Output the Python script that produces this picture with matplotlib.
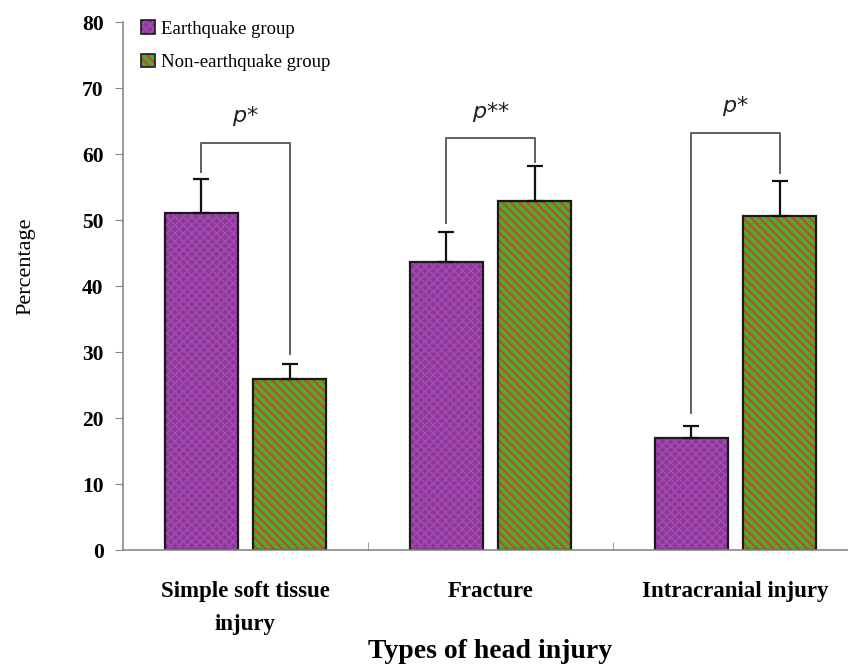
import numpy as np
import matplotlib.pyplot as plt
from matplotlib.patches import Patch

plt.rcParams['font.family'] = ['Liberation Serif', 'DejaVu Serif']
plt.rcParams['hatch.linewidth'] = 1.3

categories = ['Simple soft tissue\ninjury', 'Fracture', 'Intracranial injury']
quake = [51.0, 43.7, 17.0]
quake_err = [5.2, 4.5, 1.8]
nonquake = [25.9, 52.9, 50.6]
nonquake_err = [2.3, 5.3, 5.3]
# bracket: left leg bottom, top, right leg bottom
brackets = [(57.3, 61.7, 29.7), (49.5, 62.4, 58.8), (20.8, 63.2, 57.1)]
sig = ['$p$*', '$p$**', '$p$*']

fig = plt.figure(figsize=(8.48, 6.66), dpi=100)
ax = fig.add_axes([123/848, 116/666, 735/848, 528/666])

x = np.arange(len(categories))
off = 0.18
w = 0.298

# purple checker bars
ax.bar(x - off, quake, w, color='#833a98', edgecolor='#a845ae', hatch='xxxx', linewidth=0)
ax.bar(x - off, quake, w, fill=False, edgecolor='#1a1a1a', linewidth=1.6)
# green bars with red stripes
ax.bar(x + off, nonquake, w, color='#4caa30', edgecolor='#d8392a', hatch='\\\\\\\\', linewidth=0)
ax.bar(x + off, nonquake, w, fill=False, edgecolor='#1a1a1a', linewidth=1.6)

ax.errorbar(x - off, quake, yerr=[np.zeros(3), quake_err], fmt='none',
            ecolor='#111111', elinewidth=1.6, capsize=5.5, capthick=1.6)
ax.errorbar(x + off, nonquake, yerr=[np.zeros(3), nonquake_err], fmt='none',
            ecolor='#111111', elinewidth=1.6, capsize=5.5, capthick=1.6)

for i, (lo_l, top, lo_r) in enumerate(brackets):
    ax.plot([x[i] - off, x[i] - off, x[i] + off, x[i] + off], [lo_l, top, top, lo_r],
            color='#606060', lw=1.4)
    ax.text(x[i], top + 2.2, sig[i], ha='center', va='bottom', fontsize=16,
            family='DejaVu Sans', color='#222222')

ax.set_xlim(-0.5, 2.5)
ax.set_ylim(0, 80)
ax.set_yticks(np.arange(0, 81, 10))
ax.set_xticks(x)
ax.set_xticklabels(categories, fontsize=16.5, fontweight='bold', linespacing=1.75)
ax.set_xticks([0.5, 1.5], minor=True)
ax.tick_params(axis='x', which='major', length=0, pad=22)
ax.tick_params(axis='x', which='minor', direction='in', length=6, color='#888888')
ax.tick_params(axis='y', length=6, color='#888888', labelsize=15.5, pad=8)
for lab in ax.get_yticklabels():
    lab.set_fontweight('bold')
for s in ['top', 'right']:
    ax.spines[s].set_visible(False)
for s in ['left', 'bottom']:
    ax.spines[s].set_color('#888888')
    ax.spines[s].set_linewidth(1.2)

fig.text(26/848, 1 - 266/666, 'Percentage', rotation=90, ha='center', va='center', fontsize=16)
fig.text(490/848, 1 - 651/666, 'Types of head injury', ha='center', va='center',
         fontsize=20, fontweight='bold')

h1 = (Patch(facecolor='#833a98', edgecolor='#a845ae', hatch='xxxx', linewidth=0),
      Patch(fill=False, edgecolor='#1a1a1a', linewidth=1.2))
h2 = (Patch(facecolor='#4caa30', edgecolor='#d8392a', hatch='\\\\\\\\', linewidth=0),
      Patch(fill=False, edgecolor='#1a1a1a', linewidth=1.2))
ax.legend([h1, h2], ['Earthquake group', 'Non-earthquake group'], loc='upper left',
          bbox_to_anchor=(132/848, 1 - 11/666), bbox_transform=fig.transFigure,
          frameon=False, fontsize=13.5, handlelength=0.75, handleheight=0.75,
          handletextpad=0.3, labelspacing=0.85, borderpad=0)

fig.savefig('out.png', dpi=100)
